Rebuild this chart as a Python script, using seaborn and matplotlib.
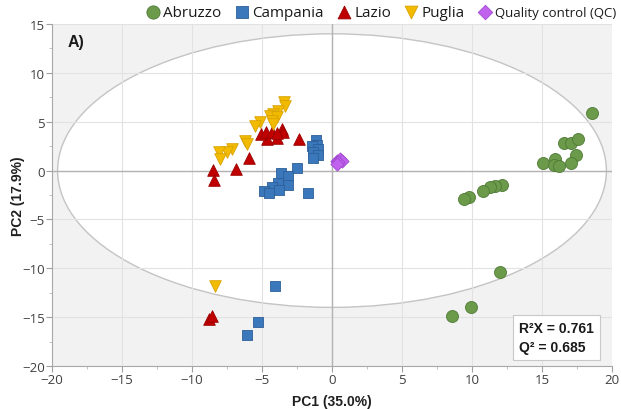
import numpy as np
import pandas as pd
import matplotlib
matplotlib.use("Agg")
import matplotlib.pyplot as plt
from matplotlib.patches import Ellipse
from matplotlib.ticker import MultipleLocator
import seaborn as sns

# PCA scores (PC1, PC2) per region
abruzzo_pc1 = [18.6, 16.6, 17.1, 17.6, 17.4, 17.1, 15.1, 15.95, 15.86, 16.2,
               12.14, 11.67, 11.3, 10.79, 9.79, 9.4, 12.0, 9.93, 8.6]
abruzzo_pc2 = [5.9, 2.86, 2.86, 3.23, 1.63, 0.81, 0.78, 1.15, 0.6, 0.47,
               -1.47, -1.61, -1.71, -2.06, -2.7, -2.94, -10.35, -14.0, -14.9]

campania_pc1 = [-1.17, -1.1, -1.45, -0.98, -1.33, -0.98, -1.38, -2.48, -3.67, -3.12,
                -3.12, -3.88, -4.31, -4.83, -4.5, -3.79, -1.69, -4.07, -5.26, -6.05]
campania_pc2 = [3.13, 2.62, 2.55, 2.21, 1.87, 1.6, 1.29, 0.27, -0.25, -0.58,
                -1.44, -1.27, -1.71, -2.06, -2.29, -1.95, -2.29, -11.78, -15.46, -16.8]

lazio_pc1 = [-8.52, -8.4, -6.83, -5.93, -2.38, -4.67, -3.9, -5.1, -4.74, -4.31,
             -3.6, -3.48, -3.95, -8.76, -8.6]
lazio_pc2 = [0.06, -0.93, 0.16, 1.29, 3.23, 3.23, 3.3, 3.75, 3.98, 3.92,
             4.26, 3.98, 3.85, -15.2, -14.85]

puglia_pc1 = [-3.43, -3.36, -3.86, -4.19, -4.43, -3.95, -4.31, -4.19, -5.14, -5.5,
              -6.21, -6.1, -7.17, -7.52, -8.05, -8.0, -8.36]
puglia_pc2 = [7.0, 6.58, 6.13, 5.79, 5.62, 5.45, 5.11, 4.77, 4.94, 4.53,
              3.06, 2.72, 2.21, 1.94, 1.94, 1.19, -11.78]

qc_pc1 = [0.33, 0.57, 0.69, 0.45, 0.38]
qc_pc2 = [1.01, 1.19, 1.01, 0.85, 0.68]

groups = ["Abruzzo", "Campania", "Lazio", "Puglia", "Quality control (QC)"]
r2x = 0.761
q2 = 0.685

frames = []
for name, xs, ys in zip(groups,
                        [abruzzo_pc1, campania_pc1, lazio_pc1, puglia_pc1, qc_pc1],
                        [abruzzo_pc2, campania_pc2, lazio_pc2, puglia_pc2, qc_pc2]):
    frames.append(pd.DataFrame({"PC1": xs, "PC2": ys, "Group": name}))
scores = pd.concat(frames, ignore_index=True)

palette = {"Abruzzo": "#6a9a4a", "Campania": "#3a78bb", "Lazio": "#c00000",
           "Puglia": "#f2bb00", "Quality control (QC)": "#c062ee"}
edges = {"Abruzzo": "#4f7a35", "Campania": "#2d5f99", "Lazio": "#9a0000",
         "Puglia": "#d8a200", "Quality control (QC)": "#a048d0"}
markers = {"Abruzzo": "o", "Campania": "s", "Lazio": "^", "Puglia": "v",
           "Quality control (QC)": "D"}
sizes = {"Abruzzo": 75, "Campania": 60, "Lazio": 70, "Puglia": 70,
         "Quality control (QC)": 45}

sns.set_theme(style="white")
plt.rcParams["font.family"] = ["Open Sans", "DejaVu Sans"]

fig = plt.figure(figsize=(6.21, 4.10), dpi=100)
ax = fig.add_axes([0.0837, 0.1049, 0.9018, 0.834])
ax.set_facecolor("#f2f2f2")

# Hotelling T2 ellipse
ell = Ellipse((0, 0), 2 * 19.6, 2 * 14.0, facecolor="white",
              edgecolor="#c4c4c4", lw=1.0, zorder=0.2)
ax.add_patch(ell)

ax.set_axisbelow(True)
ax.grid(True, color="#e2e2e2", lw=0.8)
ax.axhline(0, color="#b2b2b2", lw=1.0, zorder=0.6)
ax.axvline(0, color="#b2b2b2", lw=1.0, zorder=0.6)

for g in groups:
    sub = scores[scores["Group"] == g]
    sns.scatterplot(data=sub, x="PC1", y="PC2", ax=ax, color=palette[g],
                    marker=markers[g], s=sizes[g], edgecolor=edges[g],
                    linewidth=0.6, label=g, zorder=3)

ax.set_xlim(-20, 20)
ax.set_ylim(-20, 15)
ax.xaxis.set_major_locator(MultipleLocator(5))
ax.yaxis.set_major_locator(MultipleLocator(5))
ax.xaxis.set_minor_locator(MultipleLocator(2.5))
ax.yaxis.set_minor_locator(MultipleLocator(2.5))
ax.tick_params(axis="both", which="major", length=4, width=0.8, color="#a0a0a0",
               labelsize=9.5, labelcolor="#404040", pad=1, direction="out",
               bottom=True, left=True)
ax.tick_params(axis="both", which="minor", length=2, width=0.6, color="#b8b8b8",
               bottom=True, left=True)
for side in ["top", "right"]:
    ax.spines[side].set_visible(False)
for side in ["left", "bottom"]:
    ax.spines[side].set_color("#a8a8a8")
    ax.spines[side].set_linewidth(0.8)

ax.set_xlabel("PC1 (35.0%)", family="Liberation Sans", fontweight="bold",
              fontsize=10, color="#202020", labelpad=6)
ax.set_ylabel("PC2 (17.9%)", family="Liberation Sans", fontweight="bold",
              fontsize=10, color="#202020", labelpad=-2)

ax.text(0.028, 0.95, "A)", transform=ax.transAxes, family="Liberation Sans",
        fontweight="bold", fontsize=11.5, va="center", ha="left", color="#1a1a1a")

ax.text(0.834, 0.083, f"R\u00b2X = {r2x:.3f}\nQ\u00b2 = {q2:.3f}",
        transform=ax.transAxes, family="Liberation Sans", fontweight="bold",
        fontsize=10, va="center", ha="left", linespacing=1.45, color="#1a1a1a",
        bbox=dict(boxstyle="square,pad=0.45", facecolor="white",
                  edgecolor="#c8c8c8", lw=0.8), zorder=5)

leg = ax.legend(loc="lower left", bbox_to_anchor=(0.15, 0.995), ncol=5,
                frameon=False, fontsize=11, handletextpad=0.0,
                columnspacing=0.6, borderaxespad=0.0, handlelength=1.4,
                markerscale=1.1)
leg.get_texts()[4].set_fontsize(9.5)
for t in leg.get_texts():
    t.set_color("#1a1a1a")

fig.savefig("out.png", dpi=100, facecolor="white")
